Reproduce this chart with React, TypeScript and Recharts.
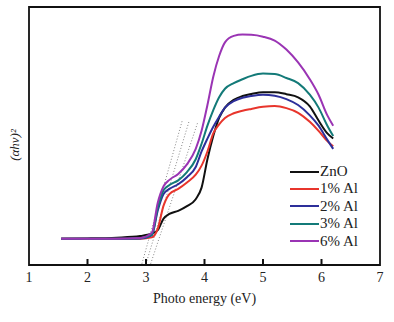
import React from "react";
import { LineChart, Line, XAxis, YAxis, ReferenceArea } from "recharts";

const energies = [1.55, 2.0, 2.5, 2.9, 3.1, 3.2, 3.3, 3.4, 3.55, 3.7, 3.85, 3.95, 4.05, 4.15, 4.25, 4.35, 4.5, 4.65, 4.8, 5.0, 5.2, 5.4, 5.6, 5.8, 5.95, 6.1, 6.2];
const zno = [10.2, 10.3, 10.6, 11.2, 12.2, 13.5, 18, 19.8, 21, 22.8, 25.5, 30, 41, 50, 57, 61, 64, 65.5, 66.3, 67, 67, 66.2, 65, 61.5, 56, 51, 49];
const al1 = [10.2, 10.2, 10.2, 10.2, 10.7, 14, 23, 27.5, 29.5, 32, 35, 38.5, 44, 51, 54.5, 57, 58.8, 59.8, 60.5, 61.3, 61.6, 60.8, 59, 55.5, 52, 48, 46];
const al2 = [10.2, 10.2, 10.2, 10.3, 11.5, 21, 27.5, 29.5, 31.3, 34, 38, 44, 49, 53.6, 57.5, 61, 63.5, 64.8, 65.5, 66, 65.6, 64.3, 62, 58, 54, 48.5, 45];
const al3 = [10.2, 10.2, 10.2, 10.4, 11.8, 22, 29, 31, 32.8, 36, 41, 47, 54, 60, 65, 68.3, 70.5, 72, 73.3, 74.2, 74, 72.5, 70.5, 66, 61, 54, 50];
const al6 = [10.2, 10.2, 10.2, 10.5, 12.5, 24, 30.5, 33, 35.3, 39, 45, 52, 62, 73, 81, 86.3, 88.8, 89.3, 89.2, 88.5, 87, 83.5, 78.5, 72, 66, 58, 54];

const seriesNames = ["ZnO", "1% Al", "2% Al", "3% Al", "6% Al"];
const seriesColors = ["#111111", "#e8352c", "#2d2f9a", "#137a78", "#9a34b4"];
const seriesValues = [zno, al1, al2, al3, al6];

const tangentX = [[2.93, 3.62], [3.0, 3.74], [3.08, 3.88]];
const tangentY = [[0.5, 56], [0.5, 56], [0.5, 55]];

const xTicks = [1, 2, 3, 4, 5, 6, 7];

const data = energies.map((e, i) => {
  const row: any = { x: e };
  seriesNames.forEach((n, k) => (row[n] = seriesValues[k][i]));
  return row;
});

const tangents = tangentX.map((xs, k) => xs.map((x, i) => ({ x, t: tangentY[k][i] })));

const FONT = "'Liberation Serif', 'DejaVu Serif', serif";

const Tick = (props: any) => {
  const { x, y, payload } = props;
  const showLine = payload.value > 1 && payload.value < 7;
  return (
    <g>
      {showLine && <line x1={x} x2={x} y1={y - 6} y2={y} stroke="#111" strokeWidth={2} />}
      <text x={x} y={y + 17} textAnchor="middle" fontFamily={FONT} fontSize={14} fill="#222">
        {payload.value}
      </text>
    </g>
  );
};

const YTitle = (props: any) => {
  const vb = props.viewBox || {};
  const cx = (vb.x || 0) + 14;
  const cy = (vb.y || 0) + (vb.height || 0) / 2 + 9;
  return (
    <text
      transform={`translate(${cx},${cy}) rotate(-90)`}
      textAnchor="middle"
      dominantBaseline="central"
      fontFamily={FONT}
      fontSize={13}
      fontStyle="italic"
      fill="#222"
    >
      (αhν)²
    </text>
  );
};

const LegendBox = () => (
  <div style={{ position: "absolute", left: 290, top: 163, fontFamily: FONT, fontSize: 15, color: "#222", lineHeight: "17.4px" }}>
    {seriesNames.map((n, k) => (
      <div key={n} style={{ display: "flex", alignItems: "center", height: 17.4 }}>
        <div style={{ width: 29, height: 2, background: seriesColors[k], marginRight: 1 }} />
        <span>{n}</span>
      </div>
    ))}
  </div>
);

export default function App() {
  return (
    <div style={{ position: "absolute", left: 0, top: 0, width: 394, height: 322, background: "#fff" }}>
      <LineChart width={394} height={322} data={data} margin={{ top: 7, right: 14, left: 0, bottom: 0 }}>
        <XAxis
          dataKey="x"
          type="number"
          domain={[1, 7]}
          ticks={xTicks}
          allowDataOverflow
          axisLine={false}
          tickLine={false}
          tickSize={0}
          tickMargin={0}
          height={57}
          tick={<Tick />}
          label={{ value: "Photo energy (eV)", position: "insideBottom", offset: 19, fontFamily: FONT, fontSize: 14, fill: "#222" }}
        />
        <YAxis
          type="number"
          domain={[0, 100]}
          width={29}
          tick={false}
          axisLine={false}
          tickLine={false}
          label={<YTitle />}
        />
        <ReferenceArea x1={1} x2={7} y1={0} y2={100} fill="none" stroke="#111" strokeWidth={1.8} ifOverflow="visible" />
        {tangents.map((d, k) => (
          <Line
            key={"t" + k}
            data={d}
            dataKey="t"
            stroke="#888"
            strokeWidth={1}
            strokeDasharray="1 2"
            dot={false}
            legendType="none"
            isAnimationActive={false}
          />
        ))}
        {seriesNames.map((n, k) => (
          <Line
            key={n}
            dataKey={n}
            stroke={seriesColors[k]}
            strokeWidth={2}
            dot={false}
            type="monotone"
            isAnimationActive={false}
          />
        ))}
      </LineChart>
      <LegendBox />
    </div>
  );
}
